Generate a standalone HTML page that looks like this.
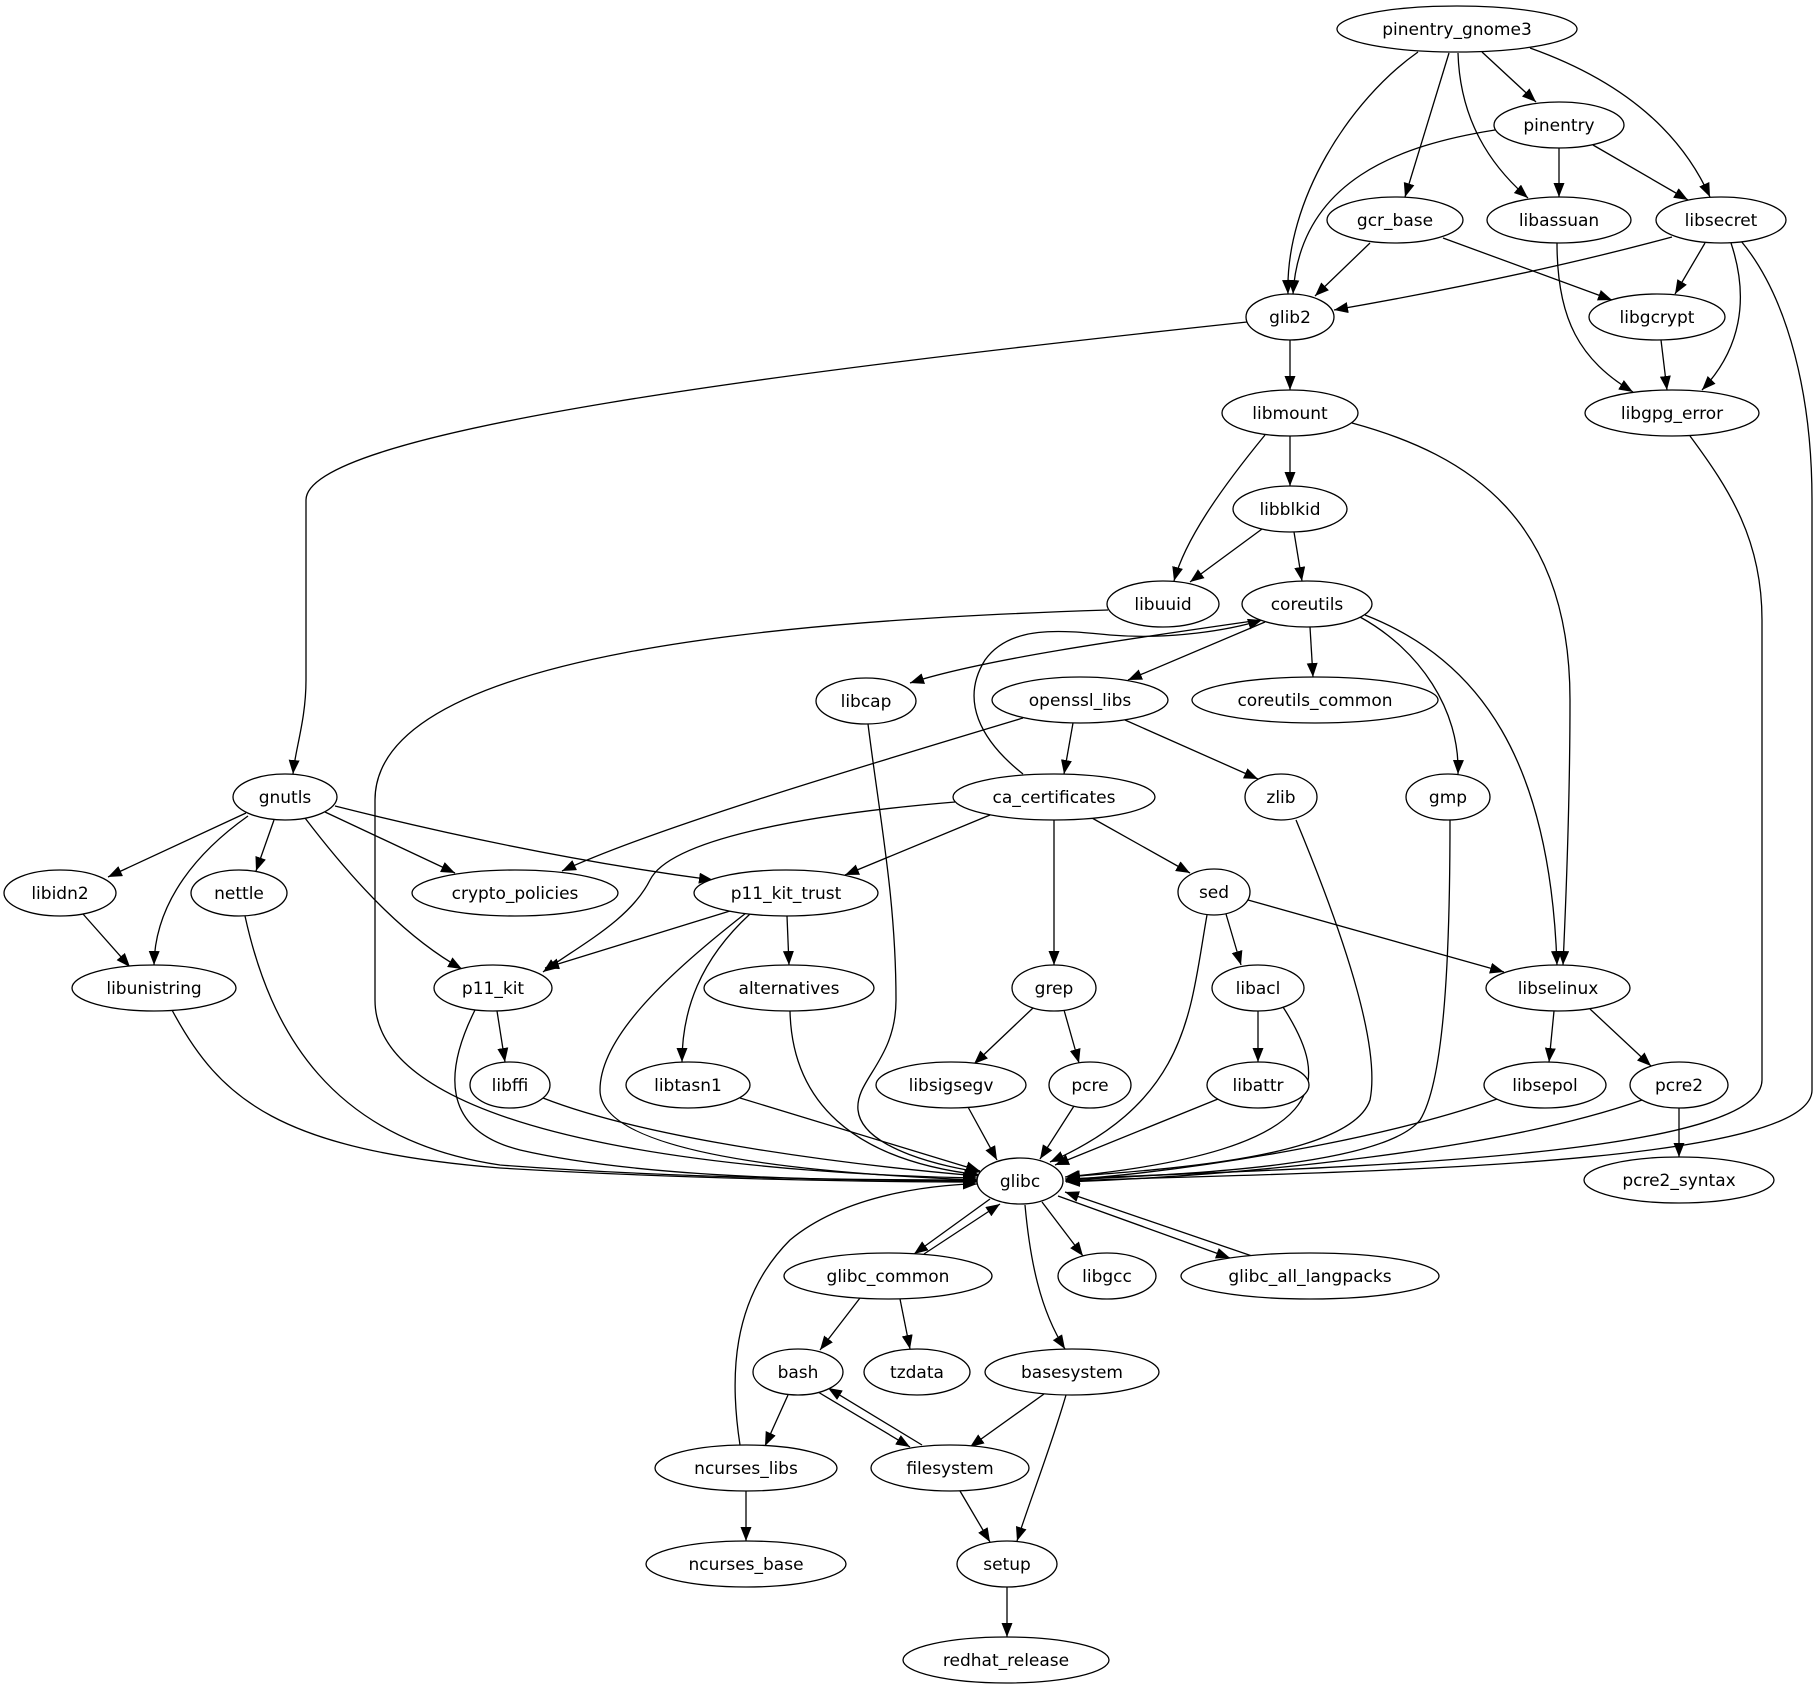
<!DOCTYPE html>
<html><head><meta charset="utf-8"><style>html,body{margin:0;padding:0;background:#fff}svg{display:block}</style></head><body>
<svg width="1818" height="1691" viewBox="0 0 1818 1691" xmlns="http://www.w3.org/2000/svg">
<defs><marker id="a" markerUnits="userSpaceOnUse" markerWidth="15" markerHeight="12" refX="14" refY="5.5" orient="auto"><path d="M0,0 L14,5.5 L0,11 z" fill="#000"/></marker></defs>
<rect width="1818" height="1691" fill="#fff"/>
<g fill="none" stroke="#000" stroke-width="1.3" marker-end="url(#a)">
<path d="M1418,52 C1350,100 1285,200 1288,294"/>
<path d="M1495,130 C1400,145 1300,180 1293,294"/>
<path d="M1449,53 L1405,197"/>
<path d="M1458,53 C1460,120 1490,165 1528,198"/>
<path d="M1482,52 L1536,102"/>
<path d="M1530,48 C1620,80 1680,130 1710,197"/>
<path d="M1559,148 L1559,197"/>
<path d="M1593,145 L1688,200"/>
<path d="M1370,243 L1315,296"/>
<path d="M1443,238 L1612,300"/>
<path d="M1672,237 C1550,270 1420,295 1334,310"/>
<path d="M1705,243 L1675,294"/>
<path d="M1731,243 C1750,300 1740,350 1702,390"/>
<path d="M1741,241 C1790,300 1812,400 1812,500 L1812,1090 C1812,1170 1300,1172 1065,1181"/>
<path d="M1661,340 L1667,390"/>
<path d="M1557,243 C1557,320 1580,360 1633,392"/>
<path d="M1690,436 C1730,490 1762,540 1762,620 L1762,1080 C1762,1160 1300,1168 1065,1179"/>
<path d="M1290,340 L1290,390"/>
<path d="M1247,322 C800,370 306,430 306,500 L306,680 C306,720 295,750 293,774"/>
<path d="M1265,435 C1220,490 1185,540 1174,581"/>
<path d="M1290,436 L1290,486"/>
<path d="M1352,423 C1470,455 1570,520 1570,700 C1570,800 1566,900 1563,965"/>
<path d="M1262,529 L1190,582"/>
<path d="M1294,532 L1302,581"/>
<path d="M1108,610 C800,620 375,650 375,800 L375,1000 C375,1150 800,1175 977,1178"/>
<path d="M1260,620 C1120,640 980,660 910,683"/>
<path d="M1265,622 L1128,680"/>
<path d="M1310,627 L1313,677"/>
<path d="M1360,617 C1420,650 1460,710 1458,774"/>
<path d="M1365,615 C1480,660 1550,760 1557,965"/>
<path d="M1023,774 C980,740 960,700 985,660 C1010,625 1060,630 1110,635 C1170,640 1230,630 1262,620"/>
<path d="M868,724 C880,820 896,900 896,1000 C896,1060 855,1080 858,1110 C862,1150 950,1168 980,1172"/>
<path d="M1023,718 C850,770 650,830 562,871"/>
<path d="M1073,723 L1064,774"/>
<path d="M1125,720 L1258,779"/>
<path d="M246,813 L108,877"/>
<path d="M248,816 C200,850 155,900 154,965"/>
<path d="M274,820 L256,871"/>
<path d="M305,818 C360,890 410,940 462,969"/>
<path d="M325,812 L455,873"/>
<path d="M335,806 C470,840 600,865 713,880"/>
<path d="M990,815 L845,875"/>
<path d="M955,802 C800,815 670,840 650,880 C630,920 580,945 543,972"/>
<path d="M1054,820 L1054,965"/>
<path d="M1092,818 L1190,873"/>
<path d="M83,914 L130,967"/>
<path d="M245,916 C270,1030 330,1140 500,1165 C700,1180 900,1180 977,1180"/>
<path d="M172,1010 C220,1100 280,1150 500,1168 C700,1180 900,1182 977,1182"/>
<path d="M730,911 L545,968"/>
<path d="M746,913 C660,980 600,1040 600,1090 C600,1160 850,1175 978,1180"/>
<path d="M750,914 C700,960 682,1010 682,1062"/>
<path d="M787,916 L789,965"/>
<path d="M497,1011 L505,1062"/>
<path d="M475,1010 C445,1070 440,1130 520,1150 C650,1180 850,1180 977,1181"/>
<path d="M543,1098 C650,1140 850,1165 978,1176"/>
<path d="M740,1098 L980,1171"/>
<path d="M790,1011 C792,1100 850,1160 980,1175"/>
<path d="M1207,915 C1190,1010 1190,1100 1050,1162"/>
<path d="M1226,914 L1241,965"/>
<path d="M1248,900 L1504,972"/>
<path d="M1033,1008 L974,1064"/>
<path d="M1064,1010 L1079,1063"/>
<path d="M968,1107 L997,1160"/>
<path d="M1074,1106 L1040,1159"/>
<path d="M1283,1007 C1330,1080 1340,1150 1065,1177"/>
<path d="M1258,1011 L1258,1062"/>
<path d="M1218,1099 L1055,1165"/>
<path d="M1296,820 C1350,950 1380,1050 1370,1100 C1350,1160 1150,1170 1066,1177"/>
<path d="M1450,820 C1450,950 1445,1080 1420,1120 C1380,1170 1150,1175 1066,1180"/>
<path d="M1554,1011 L1549,1062"/>
<path d="M1590,1009 L1651,1066"/>
<path d="M1497,1099 C1380,1140 1200,1170 1066,1180"/>
<path d="M1642,1100 C1500,1150 1250,1175 1066,1182"/>
<path d="M1679,1108 L1679,1157"/>
<path d="M990,1199 L914,1254"/>
<path d="M924,1254 L1000,1204"/>
<path d="M1042,1202 L1083,1256"/>
<path d="M1025,1205 C1030,1260 1040,1310 1065,1349"/>
<path d="M1058,1196 L1230,1258"/>
<path d="M1252,1256 L1065,1192"/>
<path d="M860,1298 L820,1350"/>
<path d="M900,1299 L910,1349"/>
<path d="M788,1395 L765,1446"/>
<path d="M818,1392 L910,1447"/>
<path d="M922,1445 L828,1388"/>
<path d="M740,1445 C730,1380 730,1300 790,1240 C850,1190 950,1184 977,1184"/>
<path d="M746,1491 L746,1541"/>
<path d="M1044,1394 L970,1447"/>
<path d="M1066,1395 C1050,1450 1030,1500 1017,1541"/>
<path d="M960,1491 L990,1542"/>
<path d="M1007,1587 L1007,1637"/>
</g>
<g fill="#fff" stroke="#000" stroke-width="1.3">
<ellipse cx="1457" cy="29" rx="120" ry="23"/>
<ellipse cx="1559" cy="125" rx="65" ry="23"/>
<ellipse cx="1395" cy="220" rx="68" ry="23"/>
<ellipse cx="1559" cy="220" rx="72" ry="23"/>
<ellipse cx="1721" cy="220" rx="65" ry="23"/>
<ellipse cx="1290" cy="317" rx="44" ry="23"/>
<ellipse cx="1657" cy="317" rx="68" ry="23"/>
<ellipse cx="1290" cy="413" rx="68" ry="23"/>
<ellipse cx="1672" cy="413" rx="87" ry="23"/>
<ellipse cx="1290" cy="509" rx="57" ry="23"/>
<ellipse cx="1163" cy="604" rx="56" ry="23"/>
<ellipse cx="1307" cy="604" rx="65" ry="23"/>
<ellipse cx="866" cy="701" rx="50" ry="23"/>
<ellipse cx="1080" cy="700" rx="88" ry="23"/>
<ellipse cx="1315" cy="700" rx="123" ry="23"/>
<ellipse cx="285" cy="797" rx="52" ry="23"/>
<ellipse cx="1054" cy="797" rx="101" ry="23"/>
<ellipse cx="1281" cy="797" rx="36" ry="23"/>
<ellipse cx="1448" cy="797" rx="42" ry="23"/>
<ellipse cx="60" cy="893" rx="56" ry="23"/>
<ellipse cx="239" cy="893" rx="48" ry="23"/>
<ellipse cx="515" cy="893" rx="103" ry="23"/>
<ellipse cx="786" cy="893" rx="92" ry="23"/>
<ellipse cx="1214" cy="892" rx="36" ry="23"/>
<ellipse cx="154" cy="988" rx="82" ry="23"/>
<ellipse cx="493" cy="988" rx="59" ry="23"/>
<ellipse cx="789" cy="988" rx="85" ry="23"/>
<ellipse cx="1054" cy="988" rx="42" ry="23"/>
<ellipse cx="1258" cy="988" rx="46" ry="23"/>
<ellipse cx="1558" cy="988" rx="72" ry="23"/>
<ellipse cx="510" cy="1085" rx="40" ry="23"/>
<ellipse cx="688" cy="1085" rx="62" ry="23"/>
<ellipse cx="951" cy="1085" rx="75" ry="23"/>
<ellipse cx="1090" cy="1085" rx="41" ry="23"/>
<ellipse cx="1258" cy="1085" rx="51" ry="23"/>
<ellipse cx="1545" cy="1085" rx="61" ry="23"/>
<ellipse cx="1679" cy="1085" rx="49" ry="23"/>
<ellipse cx="1020" cy="1181" rx="43" ry="23"/>
<ellipse cx="1679" cy="1180" rx="95" ry="23"/>
<ellipse cx="888" cy="1276" rx="104" ry="23"/>
<ellipse cx="1107" cy="1276" rx="49" ry="23"/>
<ellipse cx="1310" cy="1276" rx="129" ry="23"/>
<ellipse cx="798" cy="1372" rx="45" ry="23"/>
<ellipse cx="917" cy="1372" rx="53" ry="23"/>
<ellipse cx="1072" cy="1372" rx="87" ry="23"/>
<ellipse cx="746" cy="1468" rx="91" ry="23"/>
<ellipse cx="950" cy="1468" rx="79" ry="23"/>
<ellipse cx="746" cy="1564" rx="100" ry="23"/>
<ellipse cx="1007" cy="1564" rx="50" ry="23"/>
<ellipse cx="1006" cy="1660" rx="103" ry="23"/>
</g>
<g font-family="'DejaVu Sans','Liberation Sans',sans-serif" font-size="17" text-anchor="middle" fill="#000">
<text x="1457" y="35">pinentry_gnome3</text>
<text x="1559" y="131">pinentry</text>
<text x="1395" y="226">gcr_base</text>
<text x="1559" y="226">libassuan</text>
<text x="1721" y="226">libsecret</text>
<text x="1290" y="323">glib2</text>
<text x="1657" y="323">libgcrypt</text>
<text x="1290" y="419">libmount</text>
<text x="1672" y="419">libgpg_error</text>
<text x="1290" y="515">libblkid</text>
<text x="1163" y="610">libuuid</text>
<text x="1307" y="610">coreutils</text>
<text x="866" y="707">libcap</text>
<text x="1080" y="706">openssl_libs</text>
<text x="1315" y="706">coreutils_common</text>
<text x="285" y="803">gnutls</text>
<text x="1054" y="803">ca_certificates</text>
<text x="1281" y="803">zlib</text>
<text x="1448" y="803">gmp</text>
<text x="60" y="899">libidn2</text>
<text x="239" y="899">nettle</text>
<text x="515" y="899">crypto_policies</text>
<text x="786" y="899">p11_kit_trust</text>
<text x="1214" y="898">sed</text>
<text x="154" y="994">libunistring</text>
<text x="493" y="994">p11_kit</text>
<text x="789" y="994">alternatives</text>
<text x="1054" y="994">grep</text>
<text x="1258" y="994">libacl</text>
<text x="1558" y="994">libselinux</text>
<text x="510" y="1091">libffi</text>
<text x="688" y="1091">libtasn1</text>
<text x="951" y="1091">libsigsegv</text>
<text x="1090" y="1091">pcre</text>
<text x="1258" y="1091">libattr</text>
<text x="1545" y="1091">libsepol</text>
<text x="1679" y="1091">pcre2</text>
<text x="1020" y="1187">glibc</text>
<text x="1679" y="1186">pcre2_syntax</text>
<text x="888" y="1282">glibc_common</text>
<text x="1107" y="1282">libgcc</text>
<text x="1310" y="1282">glibc_all_langpacks</text>
<text x="798" y="1378">bash</text>
<text x="917" y="1378">tzdata</text>
<text x="1072" y="1378">basesystem</text>
<text x="746" y="1474">ncurses_libs</text>
<text x="950" y="1474">filesystem</text>
<text x="746" y="1570">ncurses_base</text>
<text x="1007" y="1570">setup</text>
<text x="1006" y="1666">redhat_release</text>
</g>
</svg>
</body></html>
